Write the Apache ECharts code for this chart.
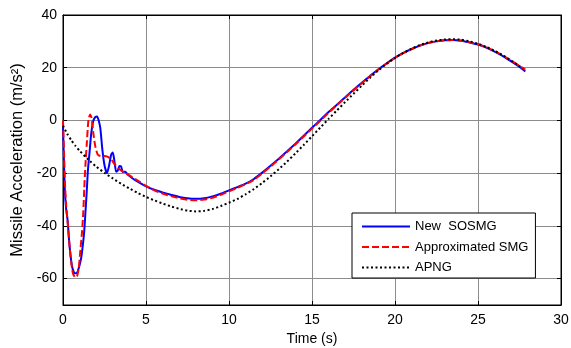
<!DOCTYPE html>
<html>
<head>
<meta charset="utf-8">
<script src="https://cdn.jsdelivr.net/npm/echarts@6/dist/echarts.min.js"></script>
<style>
html,body{margin:0;padding:0;background:#fff;}
#c{width:571px;height:348px;}
</style>
</head>
<body>
<div id="c"></div>
<script>
// ---- data ----
var seriesNames = ["New  SOSMG", "Approximated SMG", "APNG"];
var xTicks = [0, 5, 10, 15, 20, 25, 30];
var yTicks = [-60, -40, -20, 0, 20, 40];

var sosmgT = [0,0.05,0.1,0.18,0.28,0.36,0.45,0.55,0.7,0.8,0.95,1.1,1.2,1.28,1.35,1.43,1.5,1.6,1.7,1.83,1.95,2.05,2.15,2.25,2.37,2.5,2.65,2.78,2.9,3.0,3.1,3.2,3.3,3.4,3.5,3.6,3.75,3.9,4.2,4.6,5,5.5,6,6.5,7,7.5,8,8.5,9,9.5,10,10.5,11,11.5,12,12.5,13,13.5,14,14.5,15,15.5,16,16.5,17,17.5,18,18.5,19,19.5,20,20.5,21,21.5,22,22.5,23,23.5,24,24.5,25,25.5,26,26.5,27,27.5,27.85];
var sosmgV = [-2,-14,-25,-33,-38,-45,-51,-55.5,-58,-58,-56,-52,-47,-42,-35,-27,-19,-12,-5,0,1.3,1.5,0,-3,-11,-17,-20,-17,-13,-12.2,-15.5,-19.5,-19,-17.3,-17.5,-19.5,-19.5,-20.5,-22,-23.6,-25,-26.3,-27.3,-28.2,-29,-29.5,-29.7,-29.5,-28.8,-27.8,-26.5,-25.3,-24,-22.2,-19.8,-17.2,-14.5,-11.7,-8.8,-5.8,-2.8,0.2,3.2,6.0,8.8,11.6,14.3,16.9,19.4,21.7,23.8,25.6,27.1,28.4,29.4,30.0,30.4,30.5,30.2,29.6,28.8,27.6,26.1,24.4,22.4,20.3,18.6];

var smgT = [0,0.06,0.12,0.2,0.3,0.4,0.5,0.6,0.75,0.85,0.95,1.05,1.15,1.22,1.28,1.35,1.43,1.53,1.63,1.72,1.83,1.95,2.1,2.3,2.5,2.7,2.9,3.1,3.4,3.7,4,4.6,5,5.5,6,6.5,7,7.5,8,8.5,9,9.5,10,10.5,11,11.5,12,12.5,13,13.5,14,14.5,15,15.5,16,16.5,17,17.5,18,18.5,19,19.5,20,20.5,21,21.5,22,22.5,23,23.5,24,24.5,25,25.5,26,26.5,27,27.5,27.85];
var smgV = [0,-12,-24,-33,-40,-48,-54,-58,-59.6,-59,-56,-49,-42,-35,-26,-17,-9,0,2.3,1,-5,-10,-13,-13.5,-13.5,-13.8,-14.7,-16.5,-18.5,-19.8,-20.8,-23.2,-24.8,-26.5,-27.7,-28.7,-29.5,-30.1,-30.3,-30.0,-29.3,-28.2,-26.9,-25.6,-24.2,-22.5,-20.1,-17.5,-14.8,-12.0,-9.1,-6.1,-3.1,-0.1,2.9,5.8,8.6,11.4,14.1,16.8,19.3,21.6,23.7,25.5,27.1,28.4,29.4,30.0,30.4,30.5,30.3,29.7,28.9,27.8,26.3,24.6,22.7,20.7,19.3];

var apngT = [0,0.25,0.5,0.75,1,1.5,2,2.5,3,3.5,4,4.5,5,5.5,6,6.5,7,7.5,8,8.5,9,9.5,10,10.5,11,11.5,12,12.5,13,13.5,14,14.5,15,15.5,16,16.5,17,17.5,18,18.5,19,19.5,20,20.5,21,21.5,22,22.5,23,23.5,24,24.5,25,25.5,26,26.5,27,27.5,27.7];
var apngV = [-2,-5,-7.5,-9.6,-11.5,-14.7,-17.5,-19.9,-22,-24,-25.8,-27.5,-29,-30.3,-31.5,-32.6,-33.5,-34.2,-34.5,-34.3,-33.6,-32.5,-31.2,-29.8,-28.0,-26.0,-23.7,-21.2,-18.5,-15.6,-12.5,-9.3,-6.0,-2.7,0.6,3.8,7.0,10.1,13.2,16.2,19.0,21.5,23.7,25.6,27.2,28.6,29.6,30.3,30.7,30.8,30.6,30.0,29.1,27.9,26.4,24.7,22.7,20.6,19.8];

function zip(t, v) { return t.map(function (x, i) { return [x, v[i]]; }); }

var chart = echarts.init(document.getElementById('c'), null, {renderer: 'canvas'});
var font = 'Liberation Sans, Arial, sans-serif';
var gridColor = '#8c8c8c';

chart.setOption({
  animation: false,
  backgroundColor: '#ffffff',
  textStyle: {fontFamily: font, color: '#000'},
  grid: {left: 63, right: 10, top: 15, bottom: 43, show: true, borderColor: '#000', borderWidth: 1, backgroundColor: 'transparent', outerBoundsMode: 'none', containLabel: false},
  legend: {
    orient: 'vertical', left: 352, top: 213,
    padding: [7, 7, 4, 9],
    itemWidth: 48, itemHeight: 14, itemGap: 7.5,
    backgroundColor: '#fff', borderColor: '#000', borderWidth: 1, borderRadius: 0,
    itemStyle: {opacity: 0},
    textStyle: {fontFamily: font, fontSize: 13, color: '#000'},
    data: seriesNames
  },
  xAxis: [{
    type: 'value', min: 0, max: 30, interval: 5,
    name: 'Time (s)', nameLocation: 'middle', nameGap: 27,
    nameTextStyle: {fontFamily: font, fontSize: 14, color: '#000'},
    axisLine: {show: true, onZero: false, lineStyle: {color: '#000', width: 1}},
    axisTick: {show: true, inside: true, length: 4, lineStyle: {color: '#000'}},
    axisLabel: {fontFamily: font, fontSize: 14, color: '#000', margin: 8},
    splitLine: {show: true, lineStyle: {color: gridColor, width: 1}}
  }, {
    type: 'value', min: 0, max: 30, interval: 5, position: 'top',
    axisLine: {show: true, onZero: false, lineStyle: {color: '#000'}},
    axisTick: {show: true, inside: true, length: 4, lineStyle: {color: '#000'}},
    axisLabel: {show: false}, splitLine: {show: false}
  }],
  yAxis: [{
    type: 'value', min: -70, max: 40,
    name: 'Missile Acceleration (m/s²)', nameLocation: 'middle', nameGap: 35,
    nameTextStyle: {fontFamily: font, fontSize: 16.5, color: '#000'},
    axisLine: {show: true, onZero: false, lineStyle: {color: '#000', width: 1}},
    axisTick: {show: true, inside: true, length: 4, lineStyle: {color: '#000'}, customValues: yTicks},
    axisLabel: {fontFamily: font, fontSize: 14, color: '#000', margin: 6, customValues: yTicks},
    splitLine: {show: true, lineStyle: {color: gridColor, width: 1}}
  }, {
    type: 'value', min: -70, max: 40, position: 'right',
    axisLine: {show: true, onZero: false, lineStyle: {color: '#000'}},
    axisTick: {show: true, inside: true, length: 4, lineStyle: {color: '#000'}, customValues: yTicks},
    axisLabel: {show: false}, splitLine: {show: false}
  }],
  series: [{
    name: seriesNames[0], type: 'line', data: zip(sosmgT, sosmgV),
    showSymbol: false, symbol: 'none', smooth: 0.2,
    lineStyle: {color: '#0000ff', width: 2, type: 'solid'}, itemStyle: {color: '#0000ff'}
  }, {
    name: seriesNames[1], type: 'line', data: zip(smgT, smgV),
    showSymbol: false, symbol: 'none', smooth: 0.2,
    lineStyle: {color: '#ff0000', width: 2, type: [7, 3]}, itemStyle: {color: '#ff0000'}
  }, {
    name: seriesNames[2], type: 'line', data: zip(apngT, apngV),
    showSymbol: false, symbol: 'none', smooth: 0.2,
    lineStyle: {color: '#000000', width: 2, type: [2, 2.5]}, itemStyle: {color: '#000'}
  }]
});
</script>
</body>
</html>
